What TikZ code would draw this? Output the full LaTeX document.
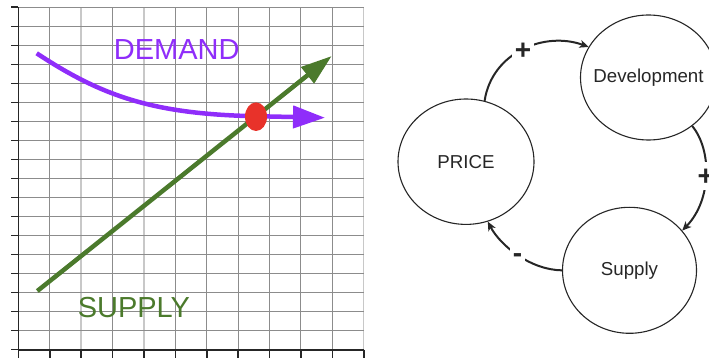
\documentclass[tikz,border=0pt]{standalone}
\usepackage{fontspec}
\setmainfont{Liberation Sans}
\usetikzlibrary{shapes.geometric,arrows.meta}
\definecolor{dem}{HTML}{8F2DFA}
\definecolor{sup}{HTML}{4B7A2C}
\definecolor{dotred}{HTML}{E8322A}
\definecolor{ink}{HTML}{262626}
\definecolor{gridc}{HTML}{8C8C8C}
\definecolor{gridl}{HTML}{C8C8C8}
\begin{document}
\begin{tikzpicture}[x=1pt,y=-1pt,
  gridline/.style={gridc, line width=1pt},
  gridlight/.style={gridl, line width=1.5pt},
  axisline/.style={ink, line width=1.6pt},
  bigtext/.style={inner sep=0pt, font=\fontsize{29}{29}\selectfont},
  bubble/.style={ellipse, draw=ink, line width=1.1pt, inner sep=0pt, fill=white,
    font=\fontsize{18.7}{20}\selectfont, text=ink},
  link/.style={ink, line width=2pt, -{Stealth[length=9pt,width=8pt,inset=2.5pt]}},
  sign/.style={fill=white, inner sep=2.5pt, font=\fontsize{28}{28}\selectfont\bfseries, text=ink},
  plussign/.style={sign, text height=21pt, text depth=1.4pt},
  minussign/.style={sign, text height=19pt, text depth=3.4pt}
]
\useasboundingbox (0,0) rectangle (709,358);

% grid
\foreach \i in {1,3,5,6,7,8,9,10} {
  \pgfmathsetmacro\xx{18.3+31.4*\i}
  \draw[gridline] (\xx,7.3) -- (\xx,349.7);
}
\foreach \i in {2,4,11} {
  \pgfmathsetmacro\xx{18.3+31.4*\i}
  \draw[gridlight] (\xx,7.3) -- (\xx,349.7);
}
\foreach \j in {0,...,17} {
  \pgfmathsetmacro\yy{7.3+19.02*\j}
  \draw[gridline] (18.3,\yy) -- (363.7,\yy);
}
\foreach \j in {0,...,18} {
  \pgfmathsetmacro\yy{7.3+19.02*\j}
  \draw[axisline] (11,\yy) -- (18.3,\yy);
}
\foreach \i in {0,...,11} {
  \pgfmathsetmacro\xx{18.3+31.4*\i}
  \draw[axisline] (\xx,349.7) -- (\xx,358);
}
\draw[axisline] (18.3,7.3) -- (18.3,358);
\draw[axisline] (18.3,349.7) -- (363.7,349.7);

% supply line
\draw[sup, line width=4.5pt, -{Triangle[length=31pt,width=20pt]}] (37.3,291) -- (331.7,56);
% demand curve
\draw[dem, line width=4.5pt, -{Triangle[length=32pt,width=22pt]}]
  (36.7,53.3) .. controls (100,95) and (150,113) .. (246.7,116) -- (325,117.7);
% equilibrium point
\fill[dotred] (256,116.7) ellipse [x radius=11, y radius=14.3];

\node[bigtext, text=dem] (demand) at (176.7,49.7) {DEMAND};
\node[bigtext, text=sup] (supplylbl) at (133.9,307.2) {SUPPLY};

% causal loop
\node[bubble, minimum width=136pt, minimum height=125.4pt] (price) at (466,161.7) {\makebox[0pt]{PRICE}};
\node[bubble, minimum width=136pt, minimum height=125pt] (dev) at (648.5,77.5) {\makebox[0pt]{Development}};
\node[bubble, minimum width=134pt, minimum height=126pt] (supply) at (629.5,270.3) {\makebox[0pt]{Supply}};

\draw[link] (price.73) .. controls (492,52) and (545,31) .. (dev.153)
  node[plussign, pos=0.5] (s1) {+};
\draw[link] (dev.-48) .. controls (712,150) and (712,200) .. (supply.37)
  node[plussign, pos=0.5] (s2) {+};
\draw[link] (supply.180) .. controls (530,270) and (500,245) .. (price.-70)
  node[minussign, pos=0.5] (s3) {-};
\end{tikzpicture}
\end{document}
